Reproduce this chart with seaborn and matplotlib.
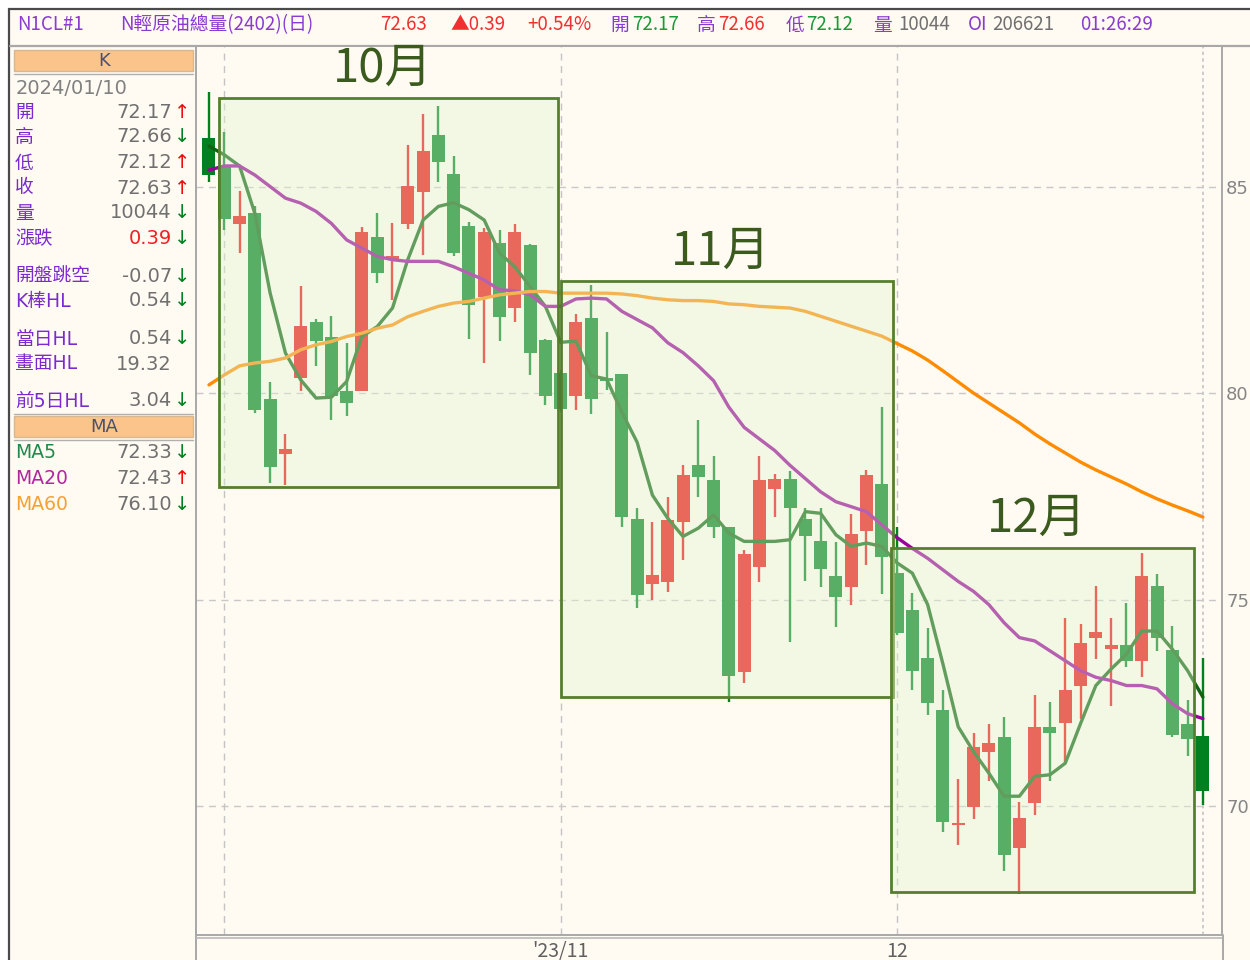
import matplotlib
matplotlib.use("Agg")
import matplotlib.pyplot as plt
from matplotlib.patches import Rectangle
import numpy as np
import pandas as pd
import seaborn as sns

# daily candles, oldest first
opens = [86.17, 85.48, 84.10, 84.35, 79.86, 78.53, 80.36, 81.71, 81.35, 80.04,
         80.04, 83.79, 83.25, 84.09, 84.88, 86.25, 85.31, 84.05, 82.32, 83.63,
         82.06, 83.59, 81.29, 80.49, 79.94, 81.83, 80.34, 80.46, 76.96, 75.38,
         75.43, 76.89, 78.25, 77.89, 76.77, 73.24, 75.79, 77.68, 77.93, 76.96,
         76.43, 75.57, 75.30, 76.65, 77.81, 75.65, 74.76, 73.58, 72.32, 69.54,
         69.98, 71.32, 71.68, 68.98, 70.08, 71.92, 72.02, 72.90, 74.06, 73.80,
         73.90, 73.52, 75.34, 73.78, 72.00, 71.71]
highs = [87.30, 86.33, 84.90, 84.52, 80.28, 79.01, 82.60, 81.79, 81.87, 81.21,
         84.03, 84.37, 84.12, 86.01, 86.75, 86.95, 85.75, 84.15, 83.99, 83.95,
         84.09, 83.60, 81.31, 80.55, 81.92, 82.62, 81.48, 80.46, 77.21, 76.88,
         77.49, 78.27, 79.36, 78.47, 76.77, 76.19, 78.47, 78.03, 78.11, 77.21,
         77.21, 76.39, 77.07, 78.15, 79.66, 76.76, 75.16, 74.32, 72.82, 70.66,
         71.76, 72.00, 72.16, 70.10, 72.70, 72.52, 74.56, 74.40, 75.34, 74.56,
         74.92, 76.14, 75.62, 74.36, 72.58, 73.58]
lows = [85.12, 83.95, 83.39, 79.52, 77.82, 77.78, 80.04, 80.65, 79.35, 79.44,
        80.04, 82.66, 82.26, 83.97, 83.35, 85.10, 83.31, 81.31, 80.73, 81.27,
        81.71, 80.44, 79.72, 79.55, 79.58, 79.50, 80.08, 76.77, 74.79, 74.98,
        75.19, 75.95, 77.49, 76.49, 72.52, 72.98, 75.43, 77.01, 73.97, 75.46,
        75.30, 74.33, 74.86, 75.85, 75.14, 74.15, 72.82, 72.20, 69.38, 69.06,
        69.70, 70.60, 68.44, 67.88, 69.78, 70.60, 71.04, 72.12, 73.56, 72.42,
        73.36, 73.12, 73.76, 71.68, 71.22, 70.02]
closes = [85.28, 84.21, 84.29, 79.60, 78.21, 78.65, 81.63, 81.27, 79.92, 79.76,
          83.91, 82.90, 83.32, 85.02, 85.85, 85.60, 83.39, 82.14, 83.89, 81.84,
          83.89, 80.98, 79.92, 79.61, 81.71, 79.86, 80.30, 76.99, 75.11, 75.59,
          76.92, 78.01, 77.96, 76.77, 73.16, 76.11, 77.89, 77.93, 77.23, 76.53,
          75.75, 75.06, 76.59, 78.01, 76.03, 74.20, 73.28, 72.50, 69.62, 69.60,
          71.44, 71.54, 68.82, 69.72, 71.92, 71.78, 72.82, 73.94, 74.22, 73.90,
          73.52, 75.58, 74.08, 71.72, 71.62, 70.36]

ma5 = [85.98, 85.77, 85.50, 84.35, 82.42, 80.97, 80.32, 79.88, 79.90, 80.28,
       81.37, 81.61, 82.06, 83.23, 84.19, 84.52, 84.61, 84.44, 84.19, 83.39,
       83.06, 82.58, 82.10, 81.23, 81.26, 80.42, 80.34, 79.54, 78.81, 77.53,
       76.97, 76.53, 76.73, 77.05, 76.61, 76.41, 76.41, 76.41, 76.45, 77.13,
       77.09, 76.57, 76.29, 76.37, 76.29, 75.89, 75.64, 74.88, 73.44, 71.92,
       71.32, 70.80, 70.24, 70.24, 70.72, 70.76, 71.04, 72.00, 72.92, 73.32,
       73.68, 74.24, 74.24, 73.80, 73.28, 72.64]
ma20 = [85.40, 85.50, 85.50, 85.28, 85.00, 84.72, 84.60, 84.40, 84.11, 83.71,
        83.51, 83.31, 83.23, 83.19, 83.19, 83.19, 83.06, 82.90, 82.74, 82.50,
        82.48, 82.38, 82.10, 82.10, 82.28, 82.30, 82.28, 81.98, 81.78, 81.58,
        81.22, 80.98, 80.66, 80.30, 79.66, 79.17, 78.89, 78.61, 78.25, 77.93,
        77.61, 77.37, 77.25, 77.13, 76.81, 76.50, 76.24, 76.00, 75.72, 75.44,
        75.20, 74.88, 74.44, 74.08, 74.00, 73.76, 73.52, 73.28, 73.12, 73.04,
        72.92, 72.92, 72.84, 72.48, 72.24, 72.12]
ma60 = [80.20, 80.44, 80.66, 80.73, 80.77, 80.85, 81.05, 81.17, 81.25, 81.37,
        81.45, 81.57, 81.65, 81.85, 81.98, 82.10, 82.18, 82.22, 82.30, 82.38,
        82.42, 82.46, 82.46, 82.42, 82.42, 82.42, 82.42, 82.40, 82.36, 82.30,
        82.26, 82.24, 82.24, 82.22, 82.16, 82.14, 82.10, 82.08, 82.06, 81.98,
        81.86, 81.74, 81.62, 81.50, 81.38, 81.20, 81.02, 80.80, 80.54, 80.27,
        80.00, 79.76, 79.52, 79.28, 79.01, 78.77, 78.55, 78.33, 78.14, 77.97,
        77.80, 77.61, 77.44, 77.29, 77.15, 77.00]

# month boxes (candle index span, price span)
month_names = ["10月", "11月", "12月"]
box_start = [0.65, 23.02, 44.6]
box_end = [22.83, 44.74, 64.42]
box_top = [87.15, 82.72, 76.25]
box_bottom = [77.73, 72.64, 67.92]

grid_x = [1, 23, 45]
cursor_x = 65
x_tick_pos = [23, 45]
x_tick_labels = ["'23/11", "12"]
y_ticks = [70, 75, 80, 85]

BG = "#fffaf2"
RED = "#ee0c0c"
GREEN = "#00801e"
PURPLE = "#7a2ad0"
GRAY = "#707070"
NARROW = ["Liberation Sans Narrow", "Noto Sans CJK TC", "DejaVu Sans"]
CJK = ["Noto Sans CJK TC", "DejaVu Sans"]
WIDE = ["DejaVu Sans", "Noto Sans CJK TC"]

header_items = [
    ("N1CL#1", 17, "#8a3bd0"),
    ("N輕原油總量(2402)(日)", 120, "#8a3bd0"),
    ("72.63", 380, "#f03030"),
    ("▲0.39", 450, "#f03030"),
    ("+0.54%", 527, "#f03030"),
    ("開", 610, "#8a3bd0"), ("72.17", 632, "#1a9a3a"),
    ("高", 697, "#8a3bd0"), ("72.66", 718, "#f03030"),
    ("低", 786, "#8a3bd0"), ("72.12", 806, "#1a9a3a"),
    ("量", 873, "#8a3bd0"), ("10044", 898, GRAY),
    ("OI", 968, "#8a3bd0"), ("206621", 992, GRAY),
    ("01:26:29", 1080, "#8a3bd0"),
]

panel_labels = ["開", "高", "低", "收", "量", "漲跌", "開盤跳空", "K棒HL",
                "當日HL", "畫面HL", "前5日HL"]
panel_values = ["72.17", "72.66", "72.12", "72.63", "10044", "0.39", "-0.07",
                "0.54", "0.54", "19.32", "3.04"]
panel_arrows = ["↑", "↓", "↑", "↑", "↓", "↓", "↓", "↓", "↓", "", "↓"]
panel_rows_y = [112, 137, 163, 188, 213, 239, 276, 301, 339, 364, 401]

ma_labels = ["MA5", "MA20", "MA60"]
ma_values = ["72.33", "72.43", "76.10"]
ma_arrows = ["↓", "↑", "↓"]
ma_rows_y = [453, 478, 504]
ma_label_colors = ["#1f8a4c", "#b0279e", "#f5a030"]

sns.set_theme(style="white")
plt.rcParams["font.family"] = ["DejaVu Sans", "Noto Sans CJK TC"]

fig = plt.figure(figsize=(12.5, 9.6), dpi=100, facecolor="white")

# frame / side panel drawn in pixel coordinates
frame = fig.add_axes([0, 0, 1, 1])
frame.set_xlim(0, 1250)
frame.set_ylim(960, 0)
frame.axis("off")
frame.add_patch(Rectangle((9, 9), 1245, 955, fc=BG, ec="#4a4a4a", lw=1.6))
frame.plot([10, 1250], [46, 46], color="#a8a8a8", lw=1.6)
frame.plot([195.5, 195.5], [46, 960], color="#a8a8a8", lw=1.4)
frame.plot([1222.5, 1222.5], [935, 960], color="#a8a8a8", lw=1.4)
frame.plot([196, 1222], [938, 938], color="#b8b8b8", lw=1.2)
frame.add_patch(Rectangle((14, 50), 179, 21, fc="#fbc48a", ec="#d8b890", lw=1))
frame.plot([14, 193], [73.5, 73.5], color="#b0b0b0", lw=1)
frame.add_patch(Rectangle((14, 416), 179, 21, fc="#fbc48a", ec="#d8b890", lw=1))
frame.plot([14, 193], [413.5, 413.5], color="#b0b0b0", lw=1)
frame.plot([14, 193], [439.5, 439.5], color="#b0b0b0", lw=1)
frame.text(104, 61, "K", ha="center", va="center", fontsize=13,
           color="#4a5070", family=WIDE)
frame.text(104, 427, "MA", ha="center", va="center", fontsize=13,
           color="#4a5070", family=WIDE)
frame.text(16, 88, "2024/01/10", ha="left", va="center", fontsize=14,
           color="#808080", family=WIDE)

for txt, px, col in header_items:
    frame.text(px, 25, txt, ha="left", va="center", fontsize=13.5,
               color=col, family=NARROW)

for lab, val, arr, py in zip(panel_labels, panel_values, panel_arrows, panel_rows_y):
    frame.text(15, py, lab, ha="left", va="center", fontsize=13.5,
               color=PURPLE, family=WIDE)
    vcol = "#f02020" if lab == "漲跌" else GRAY
    frame.text(172, py, val, ha="right", va="center", fontsize=14,
               color=vcol, family=WIDE)
    if arr:
        frame.text(174, py, arr, ha="left", va="center", fontsize=14,
                   color=RED if arr == "↑" else GREEN, family=WIDE)

for lab, val, arr, py, lc in zip(ma_labels, ma_values, ma_arrows, ma_rows_y, ma_label_colors):
    frame.text(15, py, lab, ha="left", va="center", fontsize=13.5, color=lc, family=WIDE)
    frame.text(172, py, val, ha="right", va="center", fontsize=14, color=GRAY, family=WIDE)
    frame.text(174, py, arr, ha="left", va="center", fontsize=14,
               color=RED if arr == "↑" else GREEN, family=WIDE)

# price chart
ax = fig.add_axes([196 / 1250, 25 / 960, 1026 / 1250, 888 / 960], facecolor=BG)

x = np.arange(len(opens))
o = np.array(opens)
c = np.array(closes)
colors = np.where(c >= o, RED, GREEN)
ax.vlines(x, lows, highs, colors=colors, lw=1.7, zorder=2)
ax.bar(x, np.maximum(np.abs(c - o), 0.06), bottom=np.minimum(o, c), width=0.85,
       color=colors, linewidth=0, zorder=3)

ma_df = pd.DataFrame({
    "idx": np.tile(x, 3),
    "value": ma5 + ma20 + ma60,
    "line": ["MA5"] * len(x) + ["MA20"] * len(x) + ["MA60"] * len(x),
})
sns.lineplot(data=ma_df, x="idx", y="value", hue="line", estimator=None,
             palette={"MA5": "#0f640f", "MA20": "#990099", "MA60": "#ff8c00"},
             lw=2.4, legend=False, ax=ax, zorder=4)

wash = (225 / 255, 245 / 255, 211 / 255, 0.4)
for name, s, e, t, b in zip(month_names, box_start, box_end, box_top, box_bottom):
    ax.add_patch(Rectangle((s, b), e - s, t - b, fc=wash, ec="#557f2f", lw=2.0, zorder=5))
    ax.text((s + e) / 2 - 0.4, t + 0.72, name, ha="center", va="center", fontsize=34,
            fontweight="medium", color="#3b5a1d", family=CJK, zorder=7)

for gx in grid_x:
    ax.axvline(gx, color="#c4c4c4", lw=1, ls=(0, (5, 4)), zorder=1)
ax.axvline(cursor_x, color="#c4c4c4", lw=1.2, ls=(0, (2, 2)), zorder=1)
for gy in y_ticks:
    ax.axhline(gy, color="#c8c8c8", lw=1, ls=(0, (5, 4)), zorder=1)

ax.set_xlim(-0.85, 66.25)
ax.set_ylim(66.88, 88.38)
ax.set_xlabel("")
ax.set_ylabel("")
ax.yaxis.tick_right()
ax.set_yticks(y_ticks)
ax.set_xticks(x_tick_pos, x_tick_labels)
ax.tick_params(axis="y", length=0, pad=3, labelsize=13, labelcolor="#858585")
ax.tick_params(axis="x", length=0, pad=4, labelsize=14, labelcolor="#606060")
for lbl in ax.get_xticklabels():
    lbl.set_fontfamily(NARROW)
for lbl in ax.get_yticklabels():
    lbl.set_fontfamily(WIDE)
ax.spines["top"].set_visible(False)
for side in ["left", "right", "bottom"]:
    ax.spines[side].set_color("#a8a8a8")
    ax.spines[side].set_linewidth(1.4)

fig.savefig("out.png", dpi=100, facecolor="white")
